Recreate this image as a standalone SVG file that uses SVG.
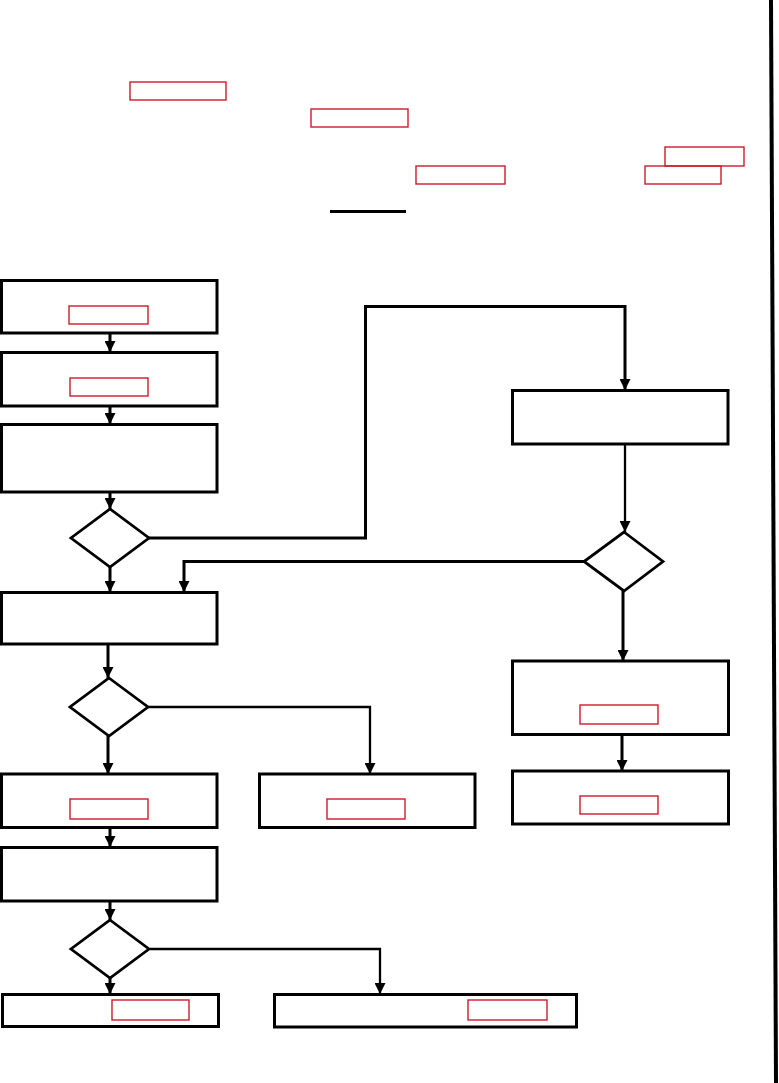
<svg xmlns="http://www.w3.org/2000/svg" width="779" height="1083" viewBox="0 0 779 1083">
<style>
.box{fill:#fff;stroke:#000;stroke-width:3}
.dia{fill:#fff;stroke:#000;stroke-width:2.8}
.ref{fill:none;stroke:#cc1a2a;stroke-width:1.4}
.c{fill:none;stroke:#000;stroke-width:3}
.t{stroke-width:2.3}
</style>
<defs>
<marker id="ah" markerUnits="userSpaceOnUse" markerWidth="11" markerHeight="11" refX="10" refY="5" orient="auto" viewBox="0 0 10 10">
<path d="M0,0 L10,5 L0,10 z" fill="#000"/>
</marker>
</defs>
<rect width="779" height="1083" fill="#fff"/>
<g id="header">
<rect class="ref" x="130" y="82" width="96" height="18"/>
<rect class="ref" x="311" y="109" width="97" height="18"/>
<rect class="ref" x="416" y="166" width="89" height="18"/>
<rect class="ref" x="665" y="147" width="79" height="19"/>
<rect class="ref" x="645" y="166" width="76" height="18"/>
<line x1="330" y1="211.5" x2="406" y2="211.5" stroke="#000" stroke-width="3"/>
</g>
<g id="margin">
<polygon points="769,0 773,0 778,1083 774,1083" fill="#000"/>
</g>
<g id="connectors">
<path class="c" d="M110,333 V352" marker-end="url(#ah)"/>
<path class="c" d="M110,406 V424" marker-end="url(#ah)"/>
<path class="c" d="M110,492 V509" marker-end="url(#ah)"/>
<path class="c" d="M149,538 H365.5 V306.5 H625 V390" marker-end="url(#ah)"/>
<path class="c t" d="M625,445 V532" marker-end="url(#ah)"/>
<path class="c" d="M584,561.5 H184 V592" marker-end="url(#ah)"/>
<path class="c" d="M110,567 V592" marker-end="url(#ah)"/>
<path class="c" d="M108,644 V678" marker-end="url(#ah)"/>
<path class="c t" d="M148,707 H370 V774" marker-end="url(#ah)"/>
<path class="c" d="M108,736 V774" marker-end="url(#ah)"/>
<path class="c" d="M110,828 V847" marker-end="url(#ah)"/>
<path class="c" d="M110,901 V920" marker-end="url(#ah)"/>
<path class="c t" d="M150,949 H380 V994" marker-end="url(#ah)"/>
<path class="c" d="M110,977 V994" marker-end="url(#ah)"/>
<path class="c" d="M623,591 V661" marker-end="url(#ah)"/>
<path class="c" d="M622,735 V771" marker-end="url(#ah)"/>
</g>
<g id="n1"><rect class="box" x="1.5" y="280.5" width="215.5" height="52.5"/><rect class="ref" x="69" y="306" width="79" height="18"/></g>
<g id="n2"><rect class="box" x="1.5" y="352.5" width="215.5" height="53.5"/><rect class="ref" x="70" y="378" width="78" height="18"/></g>
<g id="n3"><rect class="box" x="1.5" y="424.5" width="215.5" height="67.5"/></g>
<g id="d1"><polygon class="dia" points="110,509 149,538 110,567 71,538"/></g>
<g id="n4"><rect class="box" x="512.5" y="390.5" width="215.5" height="53.5"/></g>
<g id="d2"><polygon class="dia" points="624,532 663,561.5 624,591 584,561.5"/></g>
<g id="n5"><rect class="box" x="1.5" y="592.5" width="215.5" height="51.5"/></g>
<g id="d3"><polygon class="dia" points="109,678 148,707 109,736 70,707"/></g>
<g id="n6"><rect class="box" x="1.5" y="774" width="215.5" height="53.5"/><rect class="ref" x="70" y="799" width="78" height="20"/></g>
<g id="n7"><rect class="box" x="259.5" y="774" width="215.5" height="53.5"/><rect class="ref" x="327" y="799" width="78" height="20"/></g>
<g id="n8"><rect class="box" x="1.5" y="847.5" width="215.5" height="53.5"/></g>
<g id="d4"><polygon class="dia" points="110,920 149,949 110,978 71,949"/></g>
<g id="n9"><rect class="box" x="2.5" y="994.5" width="216" height="32"/><rect class="ref" x="112" y="1000" width="77" height="20"/></g>
<g id="n10"><rect class="box" x="274.5" y="994.5" width="302" height="32.5"/><rect class="ref" x="468" y="1000" width="79" height="20"/></g>
<g id="n11"><rect class="box" x="512.5" y="661" width="216" height="73.5"/><rect class="ref" x="580" y="705" width="78" height="19"/></g>
<g id="n12"><rect class="box" x="512.5" y="771" width="216" height="53"/><rect class="ref" x="580" y="796" width="78" height="18"/></g>
</svg>
